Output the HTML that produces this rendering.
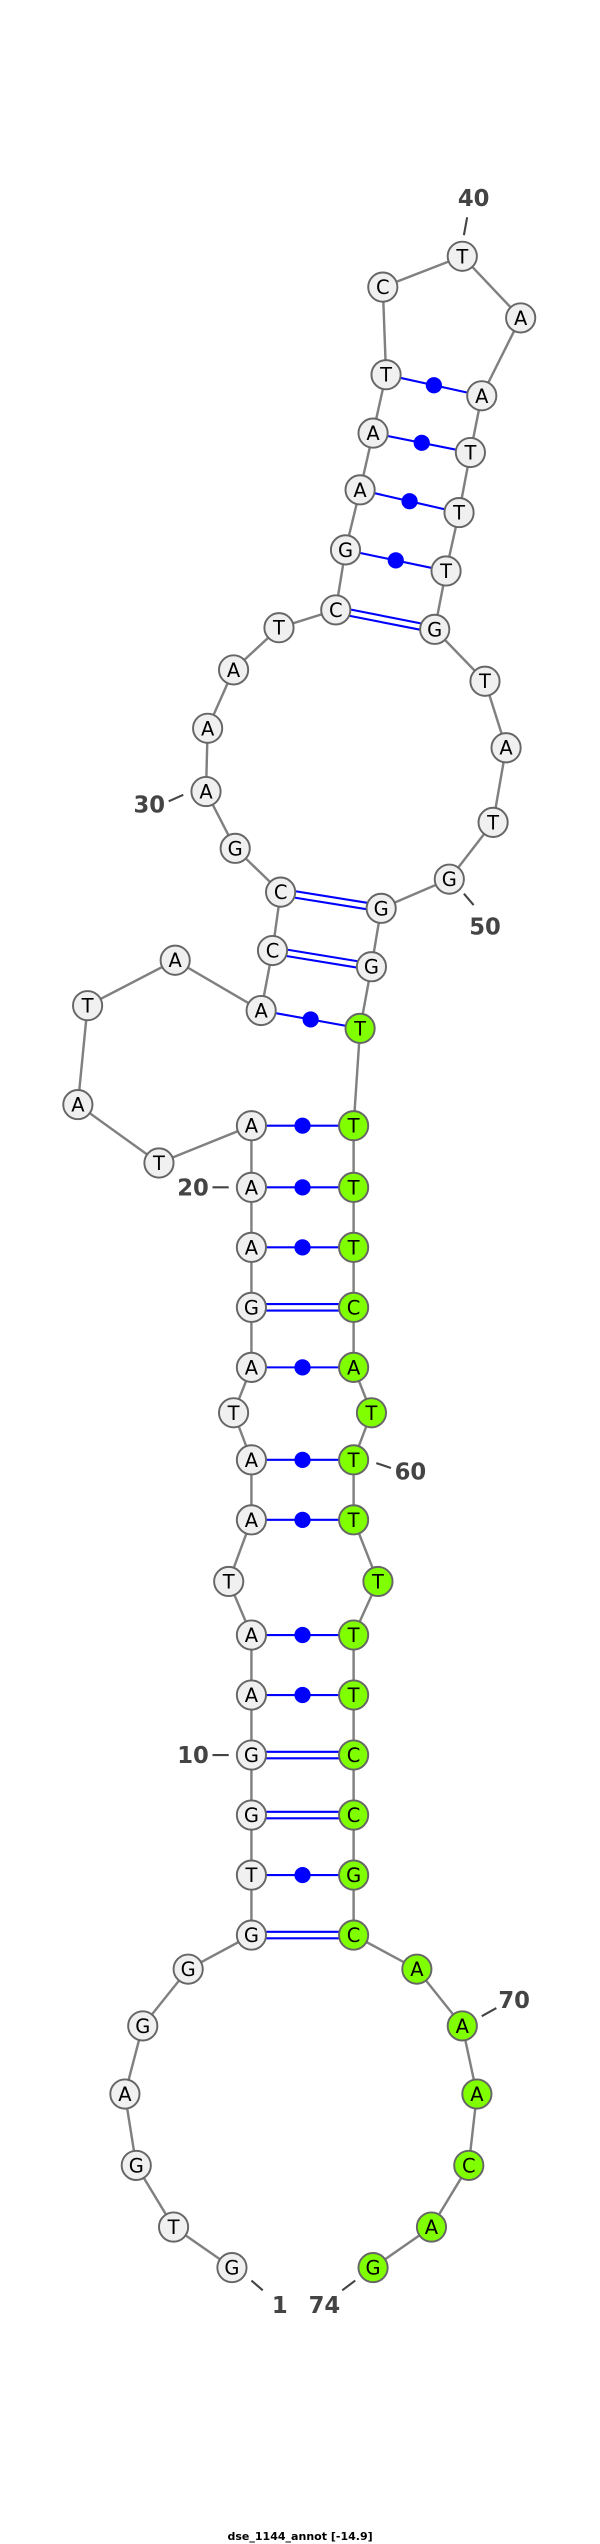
<!DOCTYPE html>
<html><head><meta charset="utf-8"><style>html,body{margin:0;padding:0;background:#fff}svg{display:block}</style></head>
<body>
<svg width="600" height="2544" viewBox="0 0 369.9 1568.4" xmlns="http://www.w3.org/2000/svg">
<g stroke="#808080" stroke-width="1.5" fill="none">
<polyline points="143,1398 107,1373 84,1335 77,1291 88,1249 116,1214 155,1193 155,1156 155,1119 155,1082 155,1045 155,1008 141,975 155,937 155,900 144,871 155,843 155,806 155,769 155,732 155,694 98,717 48,681 54,620 108,592 161,623 168,586 173,550 145,523 127,488 128,449 144,413 172,387 207,376 213,339 222,302 230,267 238,231 236,177 285,158 321,196 297,244 290,279 283,316 275,352 268,388 299,420 312,461 304,507 277,542 235,560 229,596 222,634 218,694 218,732 218,769 218,806 218,843 229,871 218,900 218,937 233,975 218,1008 218,1045 218,1082 218,1119 218,1156 218,1193 257,1214 285,1249 294,1291 289,1335 266,1373 230,1398"/>
</g>
<g stroke="#0000ff" stroke-width="1.3">
<line x1="155" y1="1191" x2="218" y2="1191"/><line x1="155" y1="1195" x2="218" y2="1195"/>
<line x1="155" y1="1117" x2="218" y2="1117"/><line x1="155" y1="1121" x2="218" y2="1121"/>
<line x1="155" y1="1080" x2="218" y2="1080"/><line x1="155" y1="1084" x2="218" y2="1084"/>
<line x1="155" y1="804" x2="218" y2="804"/><line x1="155" y1="808" x2="218" y2="808"/>
<line x1="168" y1="584" x2="229" y2="594"/><line x1="168" y1="588" x2="229" y2="598"/>
<line x1="173" y1="548" x2="235" y2="558"/><line x1="173" y1="552" x2="235" y2="562"/>
<line x1="207" y1="374" x2="268" y2="386"/><line x1="207" y1="378" x2="268" y2="390"/>
<line x1="155" y1="1156" x2="218" y2="1156"/>
<line x1="155" y1="1045" x2="218" y2="1045"/>
<line x1="155" y1="1008" x2="218" y2="1008"/>
<line x1="155" y1="937" x2="218" y2="937"/>
<line x1="155" y1="900" x2="218" y2="900"/>
<line x1="155" y1="843" x2="218" y2="843"/>
<line x1="155" y1="769" x2="218" y2="769"/>
<line x1="155" y1="732" x2="218" y2="732"/>
<line x1="155" y1="694" x2="218" y2="694"/>
<line x1="161" y1="623" x2="222" y2="634"/>
<line x1="213" y1="339" x2="275" y2="352"/>
<line x1="222" y1="302" x2="283" y2="316"/>
<line x1="230" y1="267" x2="290" y2="279"/>
<line x1="238" y1="231" x2="297" y2="244"/>
</g>
<g fill="#0000ff">
<circle cx="186.5" cy="1156" r="5"/><circle cx="186.5" cy="1045" r="5"/><circle cx="186.5" cy="1008" r="5"/>
<circle cx="186.5" cy="937" r="5"/><circle cx="186.5" cy="900" r="5"/><circle cx="186.5" cy="843" r="5"/>
<circle cx="186.5" cy="769" r="5"/><circle cx="186.5" cy="732" r="5"/><circle cx="186.5" cy="694" r="5"/>
<circle cx="191.5" cy="628.5" r="5"/><circle cx="244" cy="345.5" r="5"/><circle cx="252.5" cy="309" r="5"/>
<circle cx="260" cy="273" r="5"/><circle cx="267.5" cy="237.5" r="5"/>
</g>
<g stroke="#666" stroke-width="1.2" font-family="'DejaVu Sans','Liberation Sans',sans-serif" font-size="12" text-anchor="middle">
<g fill="#f0f0f0">
<circle cx="143" cy="1398" r="9"/><circle cx="107" cy="1373" r="9"/><circle cx="84" cy="1335" r="9"/><circle cx="77" cy="1291" r="9"/><circle cx="88" cy="1249" r="9"/><circle cx="116" cy="1214" r="9"/><circle cx="155" cy="1193" r="9"/><circle cx="155" cy="1156" r="9"/><circle cx="155" cy="1119" r="9"/><circle cx="155" cy="1082" r="9"/><circle cx="155" cy="1045" r="9"/><circle cx="155" cy="1008" r="9"/><circle cx="141" cy="975" r="9"/><circle cx="155" cy="937" r="9"/><circle cx="155" cy="900" r="9"/><circle cx="144" cy="871" r="9"/><circle cx="155" cy="843" r="9"/><circle cx="155" cy="806" r="9"/><circle cx="155" cy="769" r="9"/><circle cx="155" cy="732" r="9"/><circle cx="155" cy="694" r="9"/><circle cx="98" cy="717" r="9"/><circle cx="48" cy="681" r="9"/><circle cx="54" cy="620" r="9"/><circle cx="108" cy="592" r="9"/><circle cx="161" cy="623" r="9"/><circle cx="168" cy="586" r="9"/><circle cx="173" cy="550" r="9"/><circle cx="145" cy="523" r="9"/><circle cx="127" cy="488" r="9"/><circle cx="128" cy="449" r="9"/><circle cx="144" cy="413" r="9"/><circle cx="172" cy="387" r="9"/><circle cx="207" cy="376" r="9"/><circle cx="213" cy="339" r="9"/><circle cx="222" cy="302" r="9"/><circle cx="230" cy="267" r="9"/><circle cx="238" cy="231" r="9"/><circle cx="236" cy="177" r="9"/><circle cx="285" cy="158" r="9"/><circle cx="321" cy="196" r="9"/><circle cx="297" cy="244" r="9"/><circle cx="290" cy="279" r="9"/><circle cx="283" cy="316" r="9"/><circle cx="275" cy="352" r="9"/><circle cx="268" cy="388" r="9"/><circle cx="299" cy="420" r="9"/><circle cx="312" cy="461" r="9"/><circle cx="304" cy="507" r="9"/><circle cx="277" cy="542" r="9"/><circle cx="235" cy="560" r="9"/><circle cx="229" cy="596" r="9"/>
</g>
<g fill="#7fff00">
<circle cx="222" cy="634" r="9"/><circle cx="218" cy="694" r="9"/><circle cx="218" cy="732" r="9"/><circle cx="218" cy="769" r="9"/><circle cx="218" cy="806" r="9"/><circle cx="218" cy="843" r="9"/><circle cx="229" cy="871" r="9"/><circle cx="218" cy="900" r="9"/><circle cx="218" cy="937" r="9"/><circle cx="233" cy="975" r="9"/><circle cx="218" cy="1008" r="9"/><circle cx="218" cy="1045" r="9"/><circle cx="218" cy="1082" r="9"/><circle cx="218" cy="1119" r="9"/><circle cx="218" cy="1156" r="9"/><circle cx="218" cy="1193" r="9"/><circle cx="257" cy="1214" r="9"/><circle cx="285" cy="1249" r="9"/><circle cx="294" cy="1291" r="9"/><circle cx="289" cy="1335" r="9"/><circle cx="266" cy="1373" r="9"/><circle cx="230" cy="1398" r="9"/>
</g>
<g fill="#000" stroke="none">
<text x="143" y="1402.3">G</text><text x="107" y="1377.3">T</text><text x="84" y="1339.3">G</text><text x="77" y="1295.3">A</text><text x="88" y="1253.3">G</text><text x="116" y="1218.3">G</text><text x="155" y="1197.3">G</text><text x="155" y="1160.3">T</text><text x="155" y="1123.3">G</text><text x="155" y="1086.3">G</text><text x="155" y="1049.3">A</text><text x="155" y="1012.3">A</text><text x="141" y="979.3">T</text><text x="155" y="941.3">A</text><text x="155" y="904.3">A</text><text x="144" y="875.3">T</text><text x="155" y="847.3">A</text><text x="155" y="810.3">G</text><text x="155" y="773.3">A</text><text x="155" y="736.3">A</text><text x="155" y="698.3">A</text><text x="98" y="721.3">T</text><text x="48" y="685.3">A</text><text x="54" y="624.3">T</text><text x="108" y="596.3">A</text><text x="161" y="627.3">A</text><text x="168" y="590.3">C</text><text x="173" y="554.3">C</text><text x="145" y="527.3">G</text><text x="127" y="492.3">A</text><text x="128" y="453.3">A</text><text x="144" y="417.3">A</text><text x="172" y="391.3">T</text><text x="207" y="380.3">C</text><text x="213" y="343.3">G</text><text x="222" y="306.3">A</text><text x="230" y="271.3">A</text><text x="238" y="235.3">T</text><text x="236" y="181.3">C</text><text x="285" y="162.3">T</text><text x="321" y="200.3">A</text><text x="297" y="248.3">A</text><text x="290" y="283.3">T</text><text x="283" y="320.3">T</text><text x="275" y="356.3">T</text><text x="268" y="392.3">G</text><text x="299" y="424.3">T</text><text x="312" y="465.3">A</text><text x="304" y="511.3">T</text><text x="277" y="546.3">G</text><text x="235" y="564.3">G</text><text x="229" y="600.3">G</text>
<text x="222" y="638.3">T</text><text x="218" y="698.3">T</text><text x="218" y="736.3">T</text><text x="218" y="773.3">T</text><text x="218" y="810.3">C</text><text x="218" y="847.3">A</text><text x="229" y="875.3">T</text><text x="218" y="904.3">T</text><text x="218" y="941.3">T</text><text x="233" y="979.3">T</text><text x="218" y="1012.3">T</text><text x="218" y="1049.3">T</text><text x="218" y="1086.3">C</text><text x="218" y="1123.3">C</text><text x="218" y="1160.3">G</text><text x="218" y="1197.3">C</text><text x="257" y="1218.3">A</text><text x="285" y="1253.3">A</text><text x="294" y="1295.3">A</text><text x="289" y="1339.3">C</text><text x="266" y="1377.3">A</text><text x="230" y="1402.3">G</text>
</g>
</g>
<g stroke="#444" stroke-width="1.3">
<line x1="155" y1="1406" x2="162" y2="1412"/>
<line x1="219" y1="1406" x2="211" y2="1412"/>
<line x1="131" y1="1082" x2="141" y2="1082"/>
<line x1="131" y1="732" x2="141" y2="732"/>
<line x1="104" y1="494" x2="113" y2="490"/>
<line x1="286" y1="145" x2="288" y2="134"/>
<line x1="286" y1="551" x2="292" y2="558"/>
<line x1="232" y1="902" x2="241" y2="905"/>
<line x1="297" y1="1243" x2="306" y2="1238"/>
</g>
<g font-family="'DejaVu Sans','Liberation Sans',sans-serif" font-size="14" font-weight="bold" fill="#444" text-anchor="middle">
<text x="172.5" y="1426">1</text>
<text x="200" y="1426">74</text>
<text x="119" y="1087">10</text>
<text x="119" y="737">20</text>
<text x="92" y="501">30</text>
<text x="292" y="127">40</text>
<text x="299" y="576">50</text>
<text x="253" y="912">60</text>
<text x="317" y="1238">70</text>
</g>
<text x="185" y="1566" text-anchor="middle" font-family="'DejaVu Sans','Liberation Sans',sans-serif" font-size="6.8" font-weight="bold" fill="#000">dse_1144_annot [-14.9]</text>
</svg>
</body></html>
